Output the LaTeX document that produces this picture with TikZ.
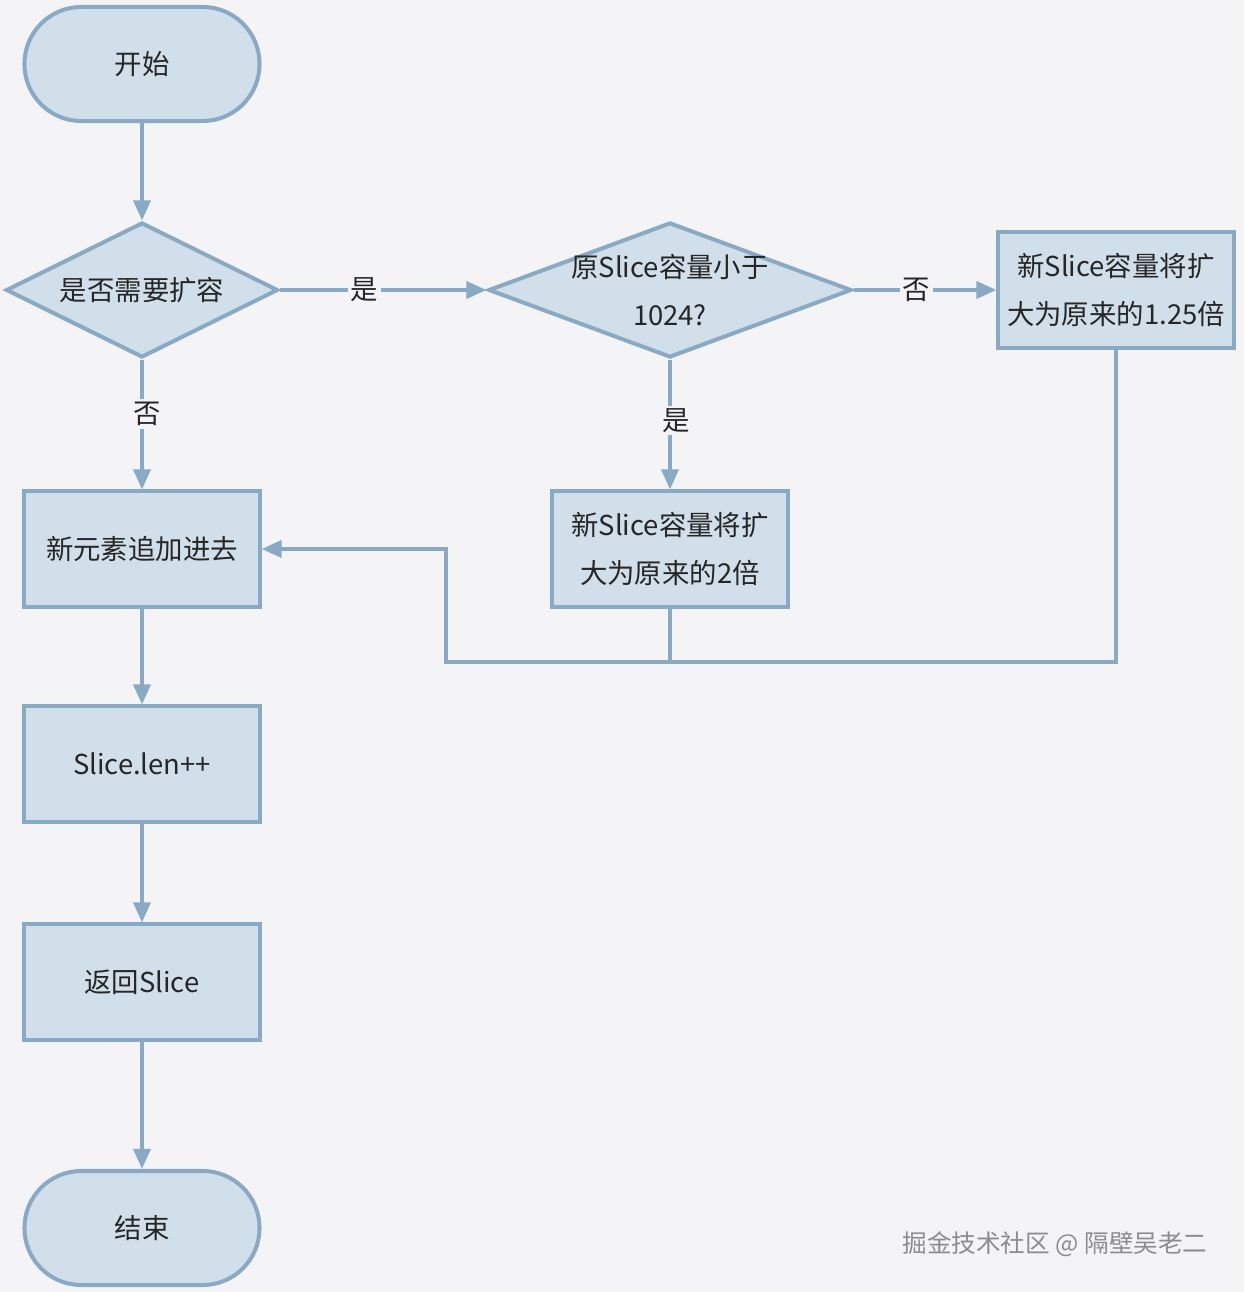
\documentclass[tikz,border=0pt]{standalone}
\usepackage{fontspec}
\setmainfont{Noto Sans CJK SC}
\usetikzlibrary{shapes.geometric,arrows.meta}
\definecolor{bg}{RGB}{244,244,247}
\definecolor{boxfill}{RGB}{208,223,234}
\definecolor{boxline}{RGB}{136,170,196}
\tikzstyle{terminal}=[rectangle,rounded corners=1.42cm,draw=boxline,fill=boxfill,line width=0.1cm,minimum width=5.875cm,minimum height=2.85cm,inner sep=0pt]
\tikzstyle{process}=[rectangle,draw=boxline,fill=boxfill,line width=0.1cm,minimum width=5.875cm,minimum height=2.875cm,inner sep=0pt,align=center]
\tikzstyle{decision}=[diamond,draw=boxline,fill=boxfill,line width=0.1cm,minimum height=3.375cm,inner sep=0pt]
\tikzstyle{flow}=[draw=boxline,line width=0.1cm,-{Triangle[length=0.5cm,width=0.42cm]}]
\tikzstyle{answer}=[fill=bg,inner sep=2pt]

\begin{document}
\begin{tikzpicture}[x=0.025cm,y=-0.025cm,font=\fontsize{19.5}{34}\selectfont,text=black!85]
    \fill[bg] (0,0) rectangle (1244,1292);
    \useasboundingbox (0,0) rectangle (1244,1292);
    %Start and end
    \node[terminal] (start) at (142,64) {开始};
    \node[terminal] (end) at (142,1228) {结束};
    %Decisions
    \node[decision,minimum width=6.8cm,label={center:是否需要扩容}] (need) at (142,290) {};
    \node[decision,minimum width=9.075cm,label={[align=center]center:{原Slice容量小于\\1024?}}] (cap) at (670,290) {};
    %Steps
    \foreach \pos/\name/\txt in {{(142,549)/add/新元素追加进去}, {(142,764)/len/Slice.len++},
                                 {(142,982)/ret/返回Slice}}
    \node[process] (\name) at \pos {\txt};
    \node[process] (twice) at (670,549) {新Slice容量将扩\\大为原来的2倍};
    \node[process] (quarter) at (1116,290) {新Slice容量将扩\\大为原来的1.25倍};
    %Connectors
    \draw[flow] (start) -- (need);
    \draw[flow] (need) -- node[answer,pos=0.41] (yes1) {是} (cap);
    \draw[flow] (cap) -- node[answer,pos=0.44] (no2) {否} (quarter);
    \draw[flow] (need) -- node[answer,pos=0.42,xshift=0.12cm] (no1) {否} (add);
    \draw[flow] (cap) -- node[answer,pos=0.47,xshift=0.15cm] (yes2) {是} (twice);
    \draw[flow] (add) -- (len);
    \draw[flow] (len) -- (ret);
    \draw[flow] (ret) -- (end);
    %Back to append
    \coordinate (join) at (446,662);
    \draw[flow] (quarter.south) |- (join) |- (add.east);
    \draw[draw=boxline,line width=0.1cm] (twice.south) -- (twice.south |- join);
    %Watermark
    \node[text=black!45] (mark) at (1055,1244) {\fontsize{17.5}{20}\selectfont 掘金技术社区 @ 隔壁吴老二};
\end{tikzpicture}
\end{document}
